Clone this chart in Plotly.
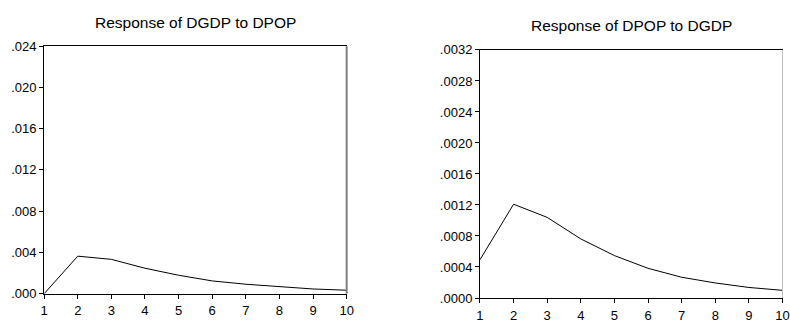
import plotly.graph_objects as go

periods = [1, 2, 3, 4, 5, 6, 7, 8, 9, 10]
dgdp_to_dpop = [0.0, 0.00364, 0.00333, 0.00247, 0.00179, 0.00124, 0.00092, 0.00068, 0.00046, 0.00034]
dpop_to_dgdp = [0.000494, 0.00121, 0.00104, 0.000762, 0.000547, 0.000383, 0.000268, 0.000194, 0.000136, 0.000099]

left_ticks = [0.0, 0.004, 0.008, 0.012, 0.016, 0.020, 0.024]
left_labels = [".000", ".004", ".008", ".012", ".016", ".020", ".024"]
right_ticks = [0.0, 0.0004, 0.0008, 0.0012, 0.0016, 0.0020, 0.0024, 0.0028, 0.0032]
right_labels = [".0000", ".0004", ".0008", ".0012", ".0016", ".0020", ".0024", ".0028", ".0032"]
titles = ["Response of DGDP to DPOP", "Response of DPOP to DGDP"]

W, H = 790, 327
FONT = "Liberation Sans, Arial, sans-serif"

fig = go.Figure()
fig.add_trace(go.Scatter(x=periods, y=dgdp_to_dpop, mode="lines",
                         line=dict(color="black", width=1), xaxis="x", yaxis="y",
                         showlegend=False))
fig.add_trace(go.Scatter(x=periods, y=dpop_to_dgdp, mode="lines",
                         line=dict(color="black", width=1), xaxis="x2", yaxis="y2",
                         showlegend=False))

def px_x(v):
    return v / W

def px_y(v):
    return 1 - v / H

ldom_x = [px_x(40.7), px_x(347.5)]
ldom_y = [px_y(300.5), px_y(41)]
rdom_x = [px_x(482.7), px_x(789.5)]
rdom_y = [px_y(305), px_y(45)]

tickfont = dict(family=FONT, size=13, color="black")

common_x = dict(range=[1, 10], tickvals=periods, ticktext=[str(p) for p in periods],
                showline=True, linecolor="black", linewidth=1, mirror=True,
                ticks="outside", ticklen=4, tickcolor="black", tickwidth=1,
                ticklabelstandoff=1,
                showgrid=False, zeroline=False, tickfont=tickfont, fixedrange=True)
common_y = dict(showline=True, linecolor="black", linewidth=1, mirror=False,
                ticks="outside", ticklen=4, tickcolor="black", tickwidth=1,
                showgrid=False, zeroline=False, tickfont=tickfont, fixedrange=True)

fig.update_layout(
    width=W, height=H,
    margin=dict(l=0, r=0, t=0, b=0),
    paper_bgcolor="white", plot_bgcolor="white",
    xaxis=dict(domain=ldom_x, anchor="y", **common_x),
    yaxis=dict(domain=ldom_y, anchor="x", range=[0, 0.024], tickvals=left_ticks,
               ticktext=left_labels, **common_y),
    xaxis2=dict(domain=rdom_x, anchor="y2", **common_x),
    yaxis2=dict(domain=rdom_y, anchor="x2", range=[0, 0.0032], tickvals=right_ticks,
                ticktext=right_labels, **common_y),
    shapes=[
        dict(type="line", xref="x domain", yref="y domain", x0=1, x1=1, y0=0, y1=1,
             line=dict(color="#808080", width=2)),
        dict(type="line", xref="x2 domain", yref="y2 domain", x0=1, x1=1, y0=0, y1=1,
             line=dict(color="#c0c0c0", width=1)),
    ],
    annotations=[
        dict(text=titles[0], xref="paper", yref="paper",
             x=(ldom_x[0] + ldom_x[1]) / 2, y=px_y(16), xanchor="center", yanchor="middle",
             showarrow=False, font=dict(family=FONT, size=15.5, color="black")),
        dict(text=titles[1], xref="paper", yref="paper",
             x=(rdom_x[0] + rdom_x[1]) / 2, y=px_y(19), xanchor="center", yanchor="middle",
             showarrow=False, font=dict(family=FONT, size=15.5, color="black")),
    ],
)

fig.write_html("out.html")
